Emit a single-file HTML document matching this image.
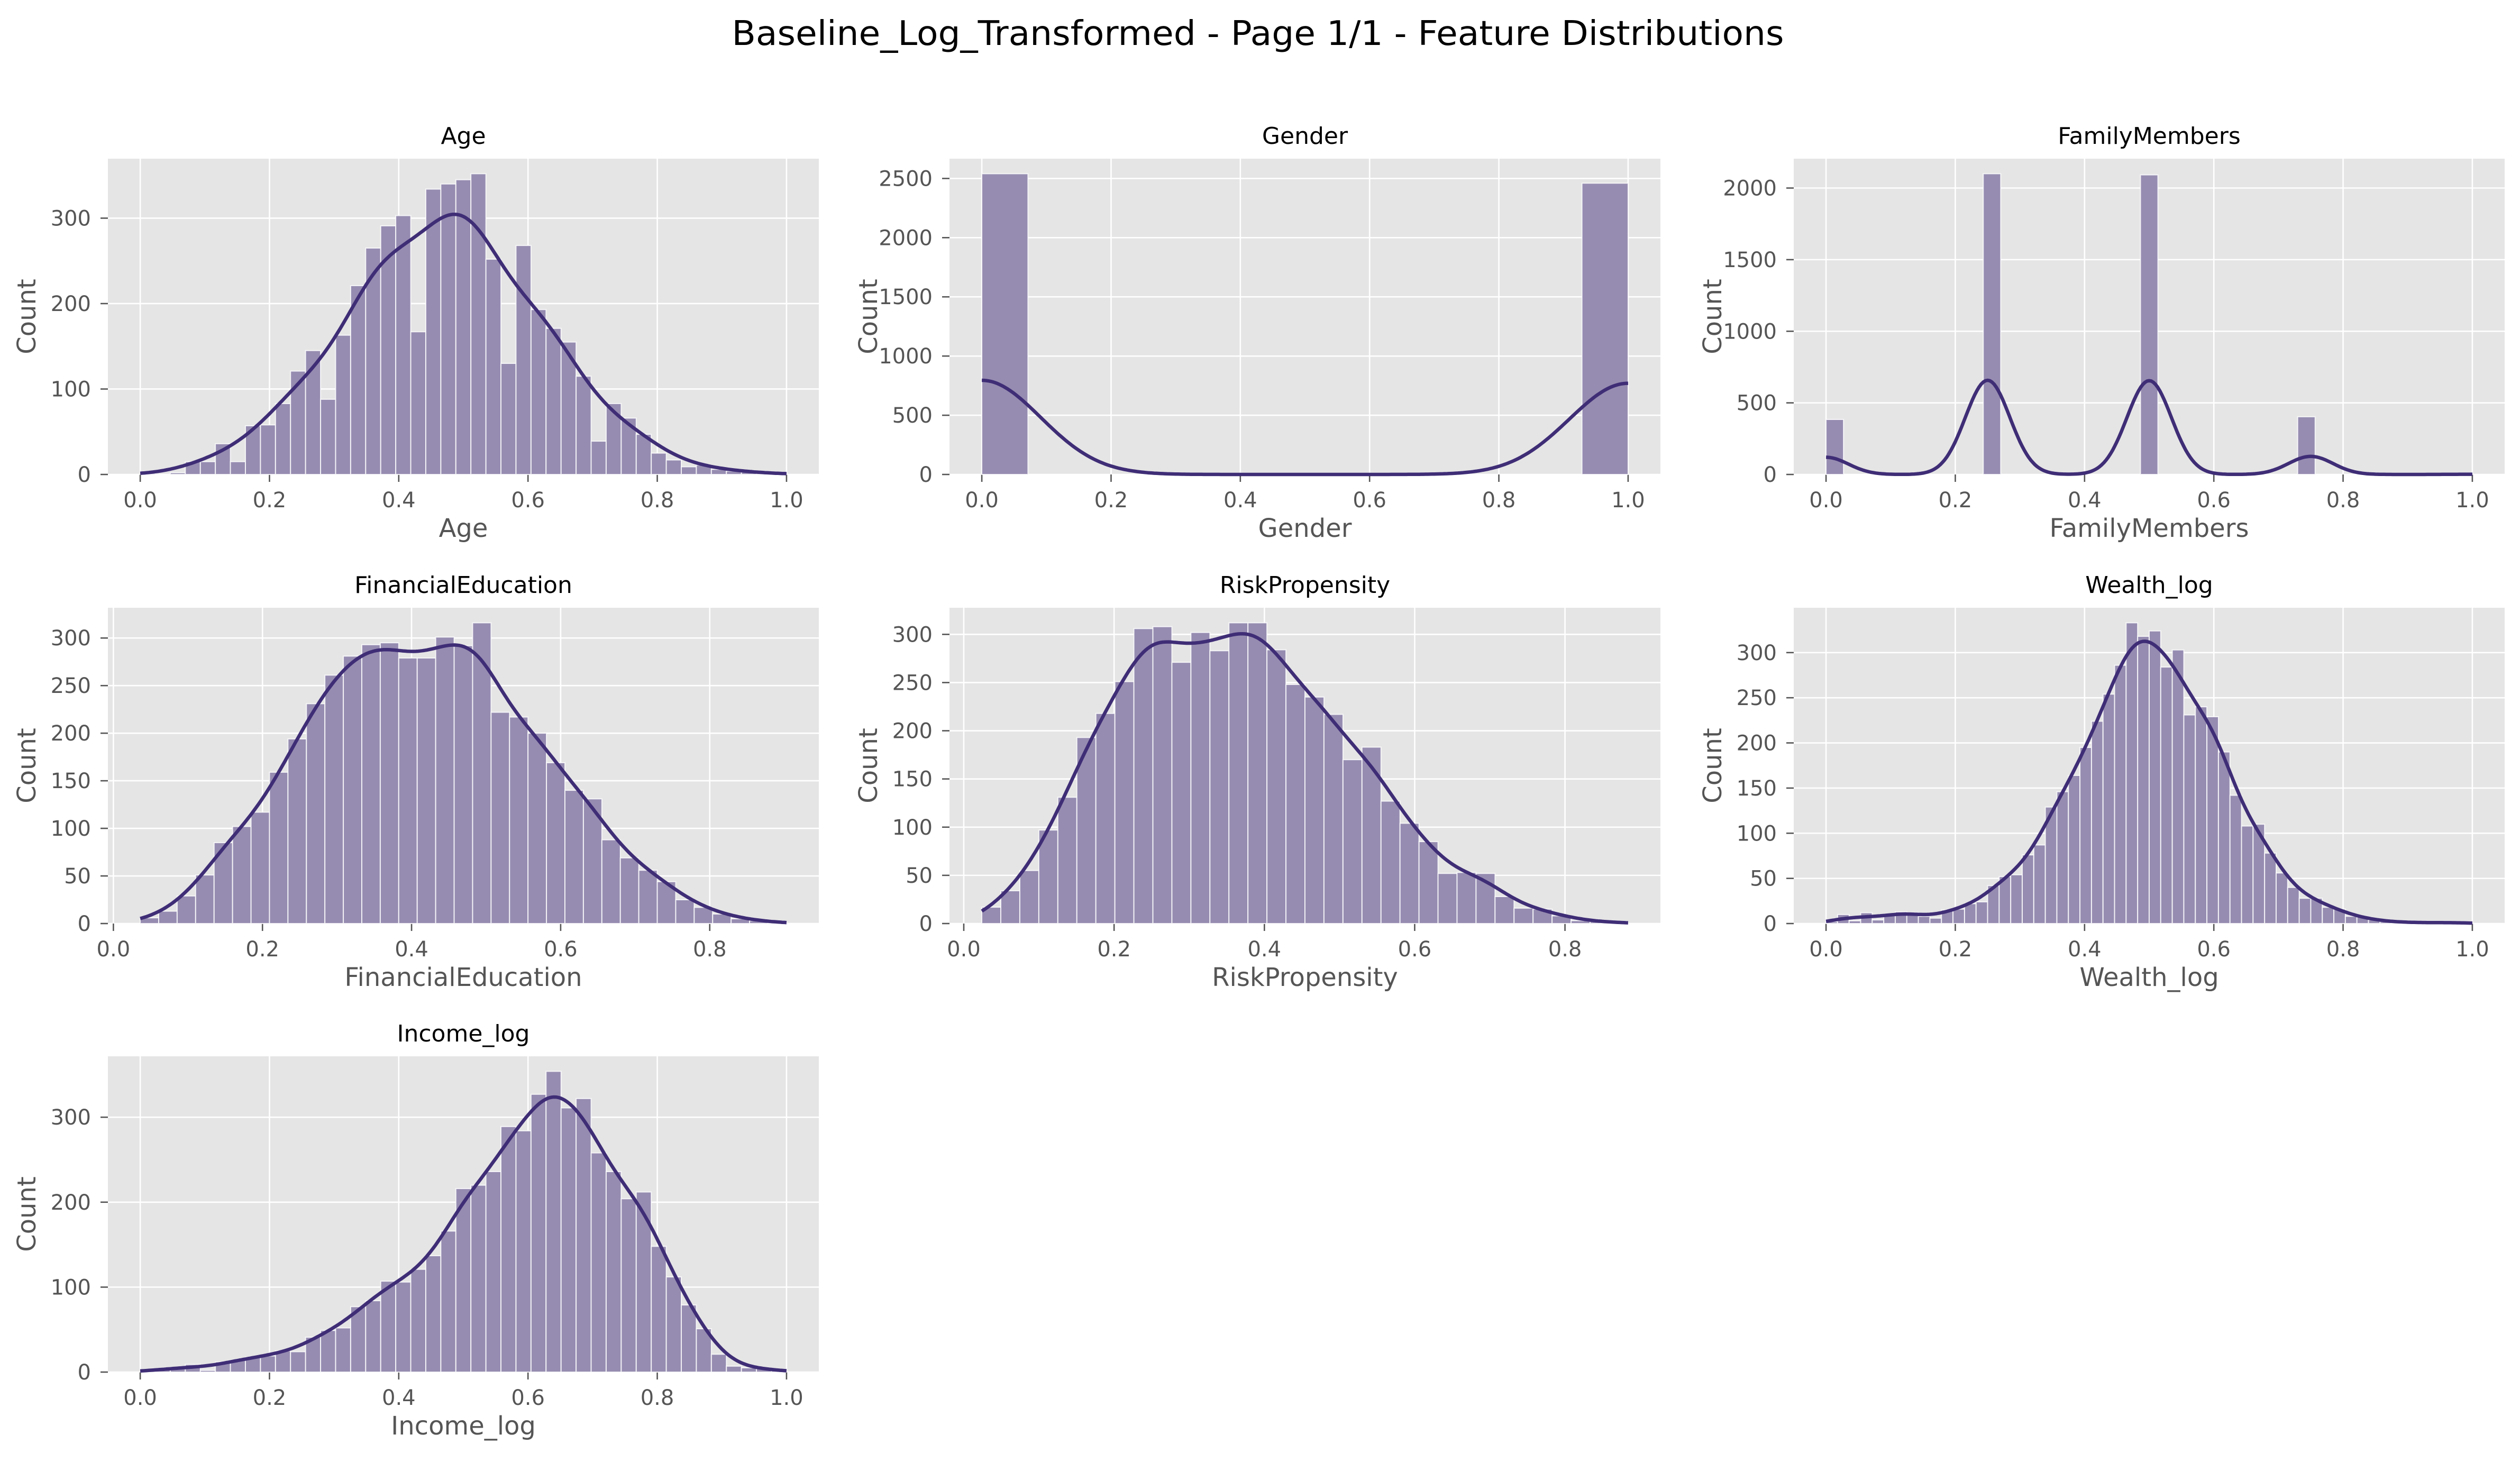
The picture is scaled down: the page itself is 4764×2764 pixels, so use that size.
<!DOCTYPE html>
<html><head><meta charset="utf-8"><style>
html,body{margin:0;padding:0;background:#fff;}
svg{display:block;font-family:"DejaVu Sans","Liberation Sans",sans-serif;}
</style></head><body>
<svg id="fig" width="4764" height="2764" viewBox="0 0 4764 2764" xmlns="http://www.w3.org/2000/svg">
<rect width="4764" height="2764" fill="#fff"/>
<text x="2378" y="85" font-size="64" text-anchor="middle" textLength="1989" lengthAdjust="spacingAndGlyphs" fill="#000">Baseline_Log_Transformed - Page 1/1 - Feature Distributions</text>
</svg>
<script>
const names = ["Age","Gender","FamilyMembers","FinancialEducation","RiskPropensity","Wealth_log","Income_log"];
const dataMin = [0,0,0,0.036,0.024,0,0];
const dataMax = [1,1,1,0.903,0.884,1,1];
const yTickStep = [100,500,500,50,50,50,100];
const bwFactor = [1.7,1,1,1.1,1.1,1.1,1.1];
const xTickLabels = ["0.0","0.2","0.4","0.6","0.8","1.0"];
const ageCounts = [1,0,2,15,15,36,15,57,58,83,121,145,88,163,221,265,291,303,167,334,340,345,352,252,130,268,193,171,155,115,39,83,66,47,25,17,9,11,6,4,3,1,1];
const genderValues = [0,1];
const genderValueCounts = [2540,2460];
const genderBins = 14;
const familyValues = [0,0.25,0.5,0.75,1];
const familyValueCounts = [384,2100,2092,403,5];
const familyBins = 37;
const finEduCounts = [6,13,29,51,85,102,117,159,194,231,261,281,293,295,279,279,301,292,316,222,217,200,169,140,131,88,69,56,44,25,17,10,5,3,1];
const riskCounts = [17,34,55,97,131,193,218,251,306,308,271,302,283,312,312,284,248,235,217,170,183,127,104,85,52,53,52,28,16,15,8,3,2,1];
const wealthCounts = [2,10,3,12,4,10,13,12,8,6,15,16,22,24,42,52,54,76,87,129,146,164,195,224,254,286,333,318,324,284,303,231,240,229,190,142,108,110,78,56,40,28,28,18,16,8,7,4,2,2,1,1,1,1,1,1];
const incomeCounts = [2,3,4,9,2,12,14,17,19,25,24,41,49,52,77,84,107,106,121,137,166,216,220,236,289,284,327,354,311,322,258,236,204,212,148,112,79,51,21,7,5,4,2];

function binDiscrete(vals, cnts, nb){const out=new Array(nb).fill(0);vals.forEach((v,i)=>{let k=Math.floor(v*nb-1e-9);if(k<0)k=0;if(k>=nb)k=nb-1;out[k]+=cnts[i];});return out;}
const allCounts = [ageCounts,binDiscrete(genderValues,genderValueCounts,genderBins),binDiscrete(familyValues,familyValueCounts,familyBins),finEduCounts,riskCounts,wealthCounts,incomeCounts];
const discrete = [null,[genderValues,genderValueCounts],[familyValues,familyValueCounts],null,null,null,null];

const svg = document.getElementById('fig');
const NS = 'http://www.w3.org/2000/svg';
const colLeft = [204,1795,3391], rowTop = [300,1149,1997], AW = 1344, AH = 597;
function mk(tag, attrs, parent){const e=document.createElementNS(NS,tag);for(const k in attrs)e.setAttribute(k,attrs[k]);parent.appendChild(e);return e;}

names.forEach((name, p) => {
  const counts = allCounts[p];
  const L = colLeft[p%3], T = rowTop[Math.floor(p/3)], B = T+AH;
  const lo = dataMin[p], hi = dataMax[p], rng = hi-lo;
  const x0 = lo-0.05*rng, x1 = hi+0.05*rng;
  const nb = counts.length, bw = rng/nb;
  // KDE source points
  let pts, wts;
  if(discrete[p]){pts=discrete[p][0];wts=discrete[p][1];}
  else {pts=counts.map((c,i)=>lo+(i+0.5)*bw);wts=counts;}
  const N = wts.reduce((a,b)=>a+b,0);
  let mean=0; pts.forEach((x,i)=>mean+=wts[i]*x); mean/=N;
  let v=0; pts.forEach((x,i)=>{const d=x-mean; v+=wts[i]*d*d;}); v/=N;
  const h = Math.sqrt(v)*Math.pow(N,-0.2)*bwFactor[p];
  const kx=[],ky=[];
  for(let k=0;k<=300;k++){const x=lo+rng*k/300;let s=0;pts.forEach((c,i)=>{const u=(x-c)/h;s+=wts[i]*Math.exp(-0.5*u*u);});kx.push(x);ky.push(s*bw/(Math.sqrt(2*Math.PI)*h));}
  const ymax = Math.max(Math.max(...counts), Math.max(...ky))*1.05;
  const X = x => L + (x-x0)/(x1-x0)*AW;
  const Y = y => B - y/ymax*AH;

  const g = mk('g',{},svg);
  
  
  const bg = mk('rect',{x:L,y:T,width:AW,height:AH,fill:'#E5E5E5'},g);
  
  
  for(let t=0;t<=ymax;t+=yTickStep[p]){
    const y=Y(t);
    mk('line',{x1:L,x2:L+AW,y1:y,y2:y,stroke:'#fff','stroke-width':2.6},g);
    mk('line',{x1:L-14,x2:L,y1:y,y2:y,stroke:'#555','stroke-width':2.6},g);
    const tl = mk('text',{x:L-32,y:y+14,'font-size':40,fill:'#555','text-anchor':'end'},g);
    tl.textContent = String(t);
    
    
  }
  xTickLabels.forEach(lbl=>{
    const val=parseFloat(lbl); if(val<x0||val>x1) return;
    const x=X(val);
    mk('line',{x1:x,x2:x,y1:T,y2:B,stroke:'#fff','stroke-width':2.6},g);
    mk('line',{x1:x,x2:x,y1:B,y2:B+14,stroke:'#555','stroke-width':2.6},g);
    const tl = mk('text',{x:x,y:B+62,'font-size':40,fill:'#555','text-anchor':'middle'},g);
    tl.textContent = lbl;
    
    
  });
  counts.forEach((c,i)=>{
    if(c<=0) return;
    const r = mk('rect',{x:X(lo+i*bw),y:Y(c),width:X(lo+(i+1)*bw)-X(lo+i*bw),height:B-Y(c),fill:'#968cb1',stroke:'#fff','stroke-width':2,'stroke-opacity':0.8},g);
    
    
  });
  const d = kx.map((x,k)=>(k?'L':'M')+X(x).toFixed(1)+' '+Y(ky[k]).toFixed(1)).join(' ');
  const path = mk('path',{d:d,fill:'none',stroke:'#3f2d76','stroke-width':6.5,'stroke-linejoin':'round'},g);
  
  
  const ti = mk('text',{x:L+AW/2,y:T-28,'font-size':44,fill:'#000','text-anchor':'middle'},g);
  ti.textContent = name;
  
  
  const xl = mk('text',{x:L+AW/2,y:B+118,'font-size':48,fill:'#555','text-anchor':'middle'},g);
  xl.textContent = name;
  
  
  const yl = mk('text',{x:0,y:0,'font-size':48,fill:'#555','text-anchor':'middle',transform:`translate(${L-137},${T+AH/2}) rotate(-90)`},g);
  yl.textContent = 'Count';
  
  
});
</script>
</body></html>
